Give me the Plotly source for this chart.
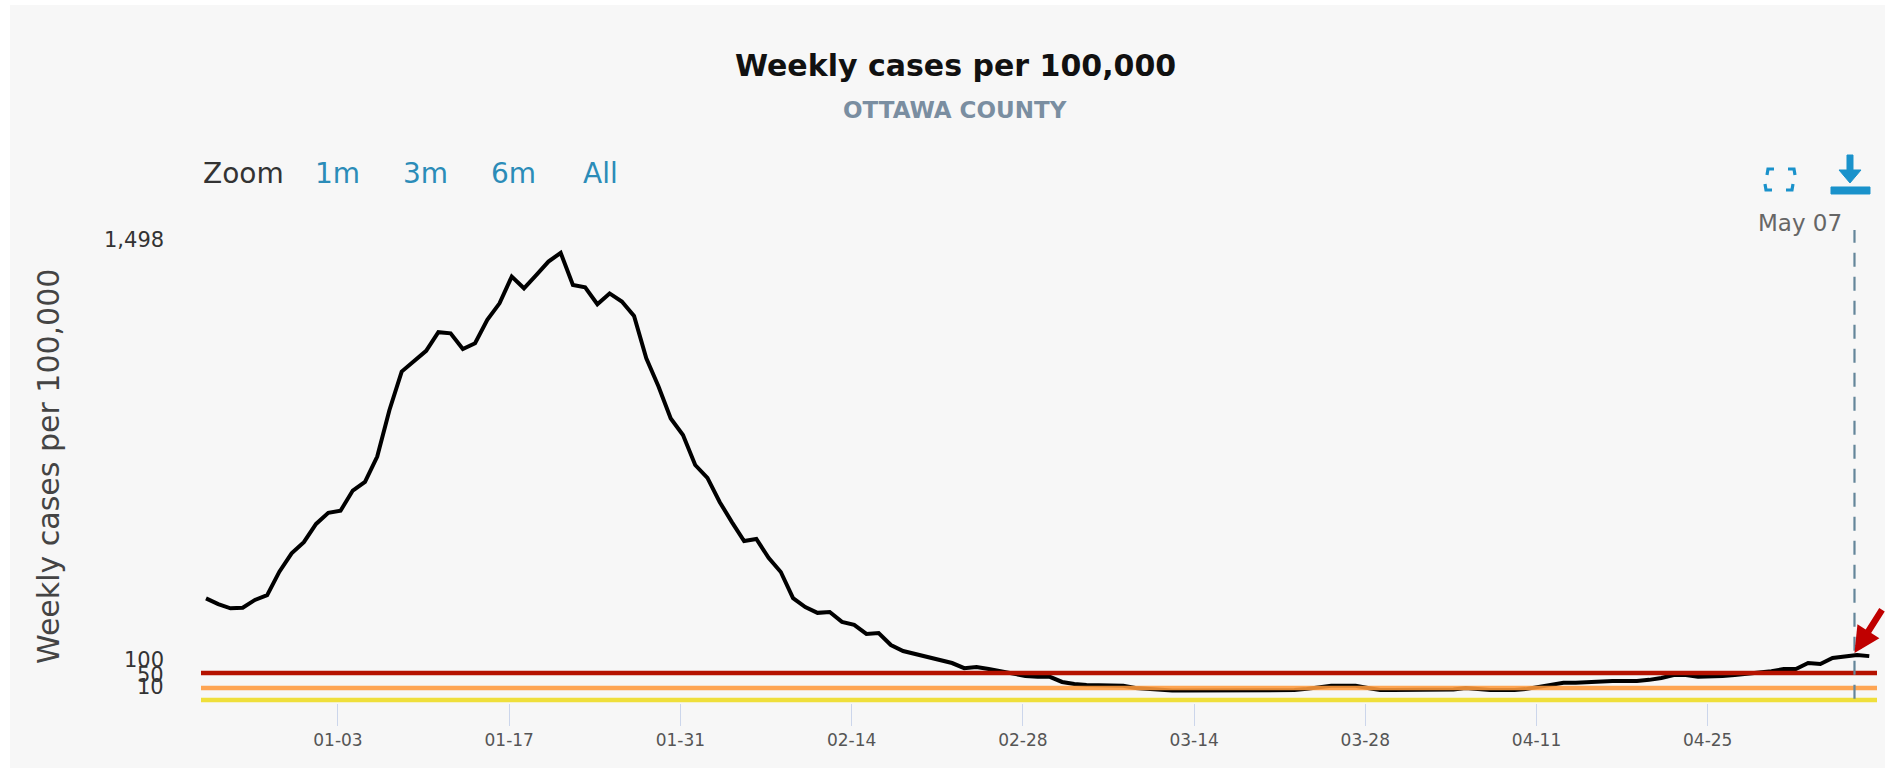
import pandas as pd
import plotly.graph_objects as go

W, H = 1885, 768
L, R, T, B = 201, 8, 230, 65
FONT = "DejaVu Sans"

first_day = "2020-12-23 05:00"
cases = [348,329,315,317,343,359,437,498,535,596,633,640,707,736,820,975,1103,1136,1172,1234,
         1230,1178,1197,1275,1330,1419,1380,1424,1469,1498,1391,1383,1327,1363,1336,1288,1147,1053,947,892,
         792,749,669,602,539,546,483,436,349,319,300,303,270,260,230,233,193,173,163,156,
         143,133,116,120,113,106,97,90,87,87,70,63,60,60,60,57,50,47,42,42,
         42,42,41,41,40,40,40,41,42,43,47,53,57,57,57,50,43,43,43,43,
         43,43,45,50,45,43,43,43,47,53,60,67,67,70,70,73,73,73,77,83,
         93,93,87,87,90,93,97,100,106,113,113,133,130,150,156,160,156]
dates = pd.date_range(first_day, periods=len(cases), freq="D")

threshold_values = [100, 50, 10]
threshold_colors = ["#b51200", "#ff9a3d", "#efdf3b"]
threshold_opacity = [1, 0.88, 1]
y_labels = [(1498, "1,498"), (100, "100"), (50, "50"), (10, "10")]
tick_dates = ["2021-01-03", "2021-01-17", "2021-01-31", "2021-02-14", "2021-02-28",
              "2021-03-14", "2021-03-28", "2021-04-11", "2021-04-25"]
tick_text = ["01-03", "01-17", "01-31", "02-14", "02-28", "03-14", "03-28", "04-11", "04-25"]
x_range = ["2020-12-22 19:10", "2021-05-08 20:10"]
y_range = [0, 1574]
marker_date = "2021-05-07"
zoom_labels = [("1m", 313), ("3m", 401), ("6m", 489), ("All", 581)]

PW, PH = W - L - R, H - T - B
px = lambda x: (x - L) / PW
py = lambda y: (H - B - y) / PH

fig = go.Figure()
fig.add_trace(go.Scatter(x=dates, y=cases, mode="lines", line=dict(color="#000", width=4), hoverinfo="skip"))
for v, c, o in zip(threshold_values, threshold_colors, threshold_opacity):
    fig.add_trace(go.Scatter(x=x_range, y=[v, v], mode="lines", opacity=o, line=dict(color=c, width=4.5), hoverinfo="skip"))

def path(points):
    return "M" + " L".join(f"{px(a):.5f},{py(b):.5f}" for a, b in points)

BLUE = "#1a92cb"
shapes = [
    dict(type="rect", xref="paper", yref="paper", x0=px(10), x1=px(W + 5), y0=py(5), y1=py(H + 5),
         fillcolor="#f7f7f7", line_width=0, layer="below"),
    dict(type="line", xref="x", yref="y", x0=marker_date, x1=marker_date, y0=14, y1=y_range[1],
         line=dict(color="#64869a", width=2.2, dash="14px,10px")),
]
# expand icon
for a, b, dx, dy in [(1768, 172, 1, 1), (1794, 172, -1, 1), (1766, 187, 1, -1), (1792, 187, -1, -1)]:
    shapes.append(dict(type="path", xref="paper", yref="paper",
                       path=path([(a + 6 * dx, b - 3 * dy), (a, b - 3 * dy), (a - 1 * dx, b + 3 * dy)]),
                       line=dict(color=BLUE, width=3.2)))
# download icon
shapes += [
    dict(type="path", xref="paper", yref="paper",
         path=path([(1847, 155), (1853, 155), (1853, 170), (1861, 170), (1850, 183), (1839, 170), (1847, 170)]) + " Z",
         fillcolor=BLUE, line=dict(color=BLUE, width=1)),
    dict(type="path", xref="paper", yref="paper",
         path=path([(1831, 187), (1870, 187), (1870, 194), (1831, 194)]) + " Z",
         fillcolor=BLUE, line=dict(color=BLUE, width=1)),
]

def note(text, x, y, size, color, anchor="left", weight=400):
    return dict(text=text, xref="paper", yref="paper", x=px(x), y=py(y), xanchor=anchor, yanchor="middle",
                showarrow=False, font=dict(family=FONT, size=size, color=color, weight=weight))

anns = [
    note("Weekly cases per 100,000", 955, 65, 30, "#111", "center", 700),
    note("OTTAWA COUNTY", 955, 110, 23, "#7a8ea1", "center", 700),
    note("Zoom", 201, 173, 28, "#333", "left"),
    note("May 07", 1800, 223, 23, "#666", "center"),
]
for text, x in zoom_labels:
    anns.append(note(text, x, 173, 28, "#2b8cb8", "left"))
for v, text in y_labels:
    anns.append(dict(text=text, xref="paper", yref="y", x=px(166), y=v, xanchor="right", yanchor="middle", yshift=13,
                     showarrow=False, font=dict(family=FONT, size=21, color="#333")))
anns.append(dict(text="Weekly cases per 100,000", xref="paper", yref="paper", x=px(48), y=py(467), textangle=-90,
                 xanchor="center", yanchor="middle", showarrow=False, font=dict(family=FONT, size=30, color="#444")))
anns.append(dict(text=" ", xref="x", yref="y", x=marker_date, y=166, ax=50, ay=-48, axref="pixel", ayref="pixel",
                 showarrow=True, arrowhead=2, arrowsize=0.8, arrowwidth=6.5, arrowcolor="#c00000", standoff=0))

fig.update_layout(
    width=W, height=H, margin=dict(l=L, r=R, t=T, b=B), showlegend=False,
    paper_bgcolor="#ffffff", plot_bgcolor="rgba(0,0,0,0)",
    shapes=shapes, annotations=anns,
    xaxis=dict(type="date", range=x_range, tickmode="array", tickvals=tick_dates, ticktext=tick_text,
               showgrid=False, zeroline=False, showline=False, ticks="outside", ticklen=22, tickwidth=1,
               tickcolor="#ccd6eb", tickfont=dict(family=FONT, size=17, color="#555")),
    yaxis=dict(range=y_range, showgrid=False, zeroline=False, showticklabels=False, ticks=""),
)
fig.write_html("out.html", post_script="document.body.style.margin='0';document.body.style.overflow='hidden';",
               config=dict(displayModeBar=False))
